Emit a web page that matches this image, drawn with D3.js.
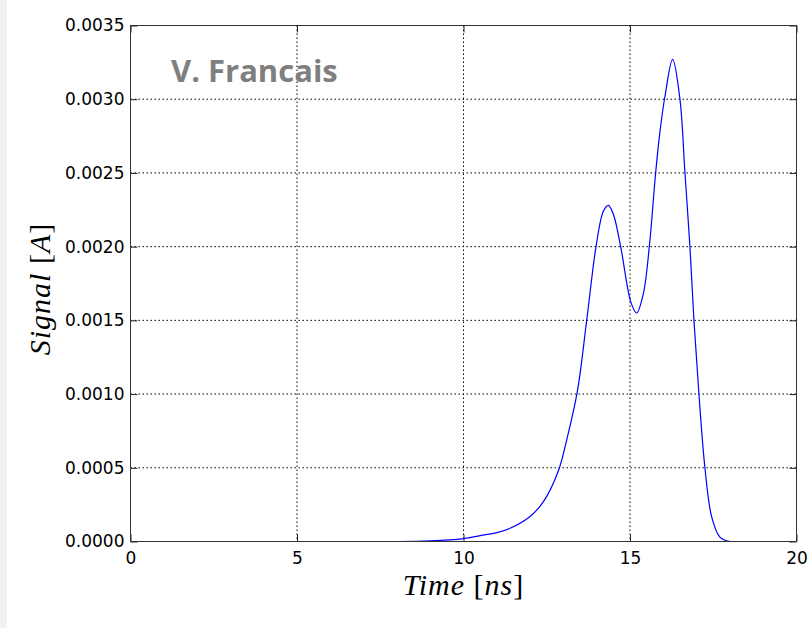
<!DOCTYPE html>
<html>
<head>
<meta charset="utf-8">
<script src="https://cdn.jsdelivr.net/npm/d3@7"></script>
<style>
  body { margin: 0; background: #fff; }
  svg { display: block; }
</style>
</head>
<body>
<div id="chart"></div>
<script>
// Signal (time in ns, current in A)
const timeNs = [8, 9, 10, 10.5, 11, 11.4, 12, 12.4, 12.85, 13.1, 13.42, 13.7, 13.98, 14.2, 14.35, 14.5,
    14.72, 15.03, 15.2, 15.4, 15.58, 15.77, 15.9, 16.05, 16.28, 16.5, 16.65, 16.8, 16.92, 17.07, 17.25, 17.45, 17.7, 18];
const signalA = [0, 0.000004, 0.00002, 0.00004, 0.00006, 0.00009, 0.00017, 0.00027, 0.00048, 0.00069, 0.00102,
    0.00150, 0.00200, 0.00224, 0.00228, 0.00222, 0.00200, 0.00162, 0.00155, 0.00168, 0.00200, 0.00250, 0.00278, 0.00302,
    0.00327, 0.00300, 0.00250, 0.00200, 0.00150, 0.00100, 0.00050, 0.00017, 0.00003, 0];

const xTicks = [0, 5, 10, 15, 20];
const yTicks = [0, 0.0005, 0.0010, 0.0015, 0.0020, 0.0025, 0.0030, 0.0035];

const chartWidth = 809;
const chartHeight = 628;
const margin = { top: 25.5, right: 12.5, bottom: 86.5, left: 130.5 };
const width = chartWidth - margin.left - margin.right;
const height = chartHeight - margin.top - margin.bottom;

const svg = d3.select("#chart")
    .append("svg")
    .attr("width", chartWidth)
    .attr("height", chartHeight);

// light grey strip on the left edge
svg.append("rect")
    .attr("x", 0).attr("y", 0)
    .attr("width", 7).attr("height", chartHeight)
    .attr("fill", "#f2f2f2");

const g = svg.append("g")
    .attr("transform", `translate(${margin.left}, ${margin.top})`);

const xScale = d3.scaleLinear().domain([0, 20]).range([0, width]);
const yScale = d3.scaleLinear().domain([0, 0.0035]).range([height, 0]);

// dotted grid
g.append("g")
    .selectAll("line")
    .data(xTicks.slice(1, -1))
    .join("line")
    .attr("x1", d => xScale(d)).attr("x2", d => xScale(d))
    .attr("y1", 0).attr("y2", height)
    .attr("stroke", "#000")
    .attr("stroke-width", 1)
    .attr("stroke-dasharray", "1.5,2.5");

g.append("g")
    .selectAll("line")
    .data(yTicks.slice(1, -1))
    .join("line")
    .attr("x1", 0).attr("x2", width)
    .attr("y1", d => yScale(d)).attr("y2", d => yScale(d))
    .attr("stroke", "#000")
    .attr("stroke-width", 1)
    .attr("stroke-dasharray", "1.5,2.5");

// signal curve
const line = d3.line()
    .x((d, i) => xScale(timeNs[i]))
    .y(d => yScale(d))
    .curve(d3.curveCatmullRom.alpha(0.5));

g.append("path")
    .datum(signalA)
    .attr("fill", "none")
    .attr("stroke", "#0000ff")
    .attr("stroke-width", 1.2)
    .attr("d", line);

// axes (ticks inward, labels outside)
const tickFont = "'DejaVu Sans', sans-serif";

const xAxis = d3.axisBottom(xScale).tickValues(xTicks).tickSize(-7).tickPadding(10)
    .tickFormat(d3.format("d"));
const yAxis = d3.axisLeft(yScale).tickValues(yTicks).tickSize(-7).tickPadding(6)
    .tickFormat(d3.format(".4f"));

g.append("g")
    .attr("transform", `translate(0, ${height})`)
    .call(xAxis)
    .call(s => s.select(".domain").remove());

g.append("g")
    .call(yAxis)
    .call(s => s.select(".domain").remove());

g.append("g")
    .call(d3.axisTop(xScale).tickValues(xTicks).tickSize(-7).tickFormat(""))
    .call(s => s.select(".domain").remove());

g.append("g")
    .attr("transform", `translate(${width}, 0)`)
    .call(d3.axisRight(yScale).tickValues(yTicks).tickSize(-7).tickFormat(""))
    .call(s => s.select(".domain").remove());

g.selectAll(".tick line").attr("stroke", "#222");
g.selectAll(".tick text")
    .attr("font-family", tickFont)
    .attr("font-size", 17)
    .attr("fill", "#000");

// frame
g.append("rect")
    .attr("x", 0).attr("y", 0)
    .attr("width", width).attr("height", height)
    .attr("fill", "none")
    .attr("stroke", "#333")
    .attr("stroke-width", 1);

// axis labels
const labelFont = "'Liberation Serif', 'DejaVu Serif', serif";

const xLabel = svg.append("text")
    .attr("x", margin.left + width / 2)
    .attr("y", 595)
    .attr("text-anchor", "middle")
    .attr("font-family", labelFont)
    .attr("font-size", 30)
    .attr("letter-spacing", 1)
    .attr("fill", "#000");
xLabel.append("tspan").attr("font-style", "italic").text("Time");
xLabel.append("tspan").text(" [");
xLabel.append("tspan").attr("font-style", "italic").text("ns");
xLabel.append("tspan").text("]");

const yLabel = svg.append("text")
    .attr("transform", `translate(50, ${289}) rotate(-90)`)
    .attr("text-anchor", "middle")
    .attr("font-family", labelFont)
    .attr("font-size", 30)
    .attr("letter-spacing", 1)
    .attr("fill", "#000");
yLabel.append("tspan").attr("font-style", "italic").text("Signal");
yLabel.append("tspan").text(" [");
yLabel.append("tspan").attr("font-style", "italic").text("A");
yLabel.append("tspan").text("]");

// watermark
svg.append("text")
    .attr("x", 171)
    .attr("y", 82)
    .attr("font-family", "'Open Sans', sans-serif")
    .attr("font-weight", "bold")
    .attr("font-size", 31)
    .attr("fill", "#7f7f7f")
    .text("V. Francais");
</script>
</body>
</html>
